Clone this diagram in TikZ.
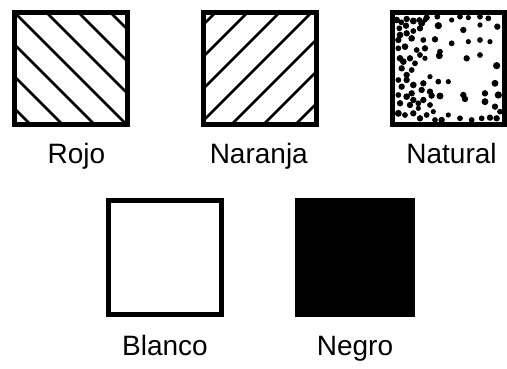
\documentclass[tikz,border=0pt]{standalone}
\usepackage{fontspec}
\setmainfont{Liberation Sans}
\begin{document}
\begin{tikzpicture}[x=1pt,y=1pt,
  frame/.style={draw=black,line width=5pt},
  hatch/.style={draw=black,line width=2.6pt},
  lbl/.style={anchor=base,inner sep=0pt,font=\fontsize{28}{34}\selectfont},
  dot/.style={fill=black}]
\useasboundingbox (0,0) rectangle (507,-369);
% ---- Rojo ----
\begin{scope}
\clip (14.5,-12.5) rectangle (127.5,-124.5);
\foreach \s in {-96,-64,-32,0,32,64,96}
  \draw[hatch] ({17+\s-150},{-15+150}) -- ({17+\s+150},{-15-150});
\end{scope}
\node[frame,minimum width=113pt,minimum height=112pt,inner sep=0pt] (rojo) at (71,-68.5) {};
\node[lbl] (lrojo) at (76.5,-164) {Rojo};
% ---- Naranja ----
\begin{scope}
\clip (203.5,-12.5) rectangle (316.5,-124.5);
\foreach \c in {7,39,71,103,135,167,199}
  \draw[hatch] ({206+\c-150},{-15-150}) -- ({206+\c+150},{-15+150});
\end{scope}
\node[frame,minimum width=113pt,minimum height=112pt,inner sep=0pt] (naranja) at (260,-68.5) {};
\node[lbl] (lnaranja) at (258.8,-164) {Naranja};
% ---- Natural ----
\begin{scope}[shift={(380,-5)},x=0.3333pt,y=-0.3333pt]
\clip (37,22) rectangle (378,355);
\foreach \X/\Y/\r in {
 50/45/2.3, 64/52/2, 80/42/2.2, 100/48/2.4, 118/45/2, 140/38/2.2, 172/35/2, 215/45/1.8, 240/35/2, 265/38/1.8, 300/35/2, 325/40/2,
 58/70/2, 78/62/2.2, 125/55/2.4, 135/45/1.8,
 60/90/2.3, 80/85/2.2, 100/78/2, 120/70/2.2, 175/62/2.5, 250/75/2.2, 300/60/1.8, 352/65/2.2,
 55/105/2.2, 95/100/2.3, 130/105/2, 165/103/2.2, 215/115/2, 265/110/1.8, 300/105/2, 330/110/1.8,
 55/130/2, 75/125/2.3, 110/135/2, 135/130/2.2, 180/140/2,
 60/160/2.3, 70/170/2.3, 90/160/2.2, 105/175/2, 120/150/2, 135/160/1.8, 178/152/2.4, 260/160/2.2, 300/150/2, 350/182/2.5,
 65/190/2.2, 95/195/2, 80/210/2.2,
 55/225/2, 80/225/2.2, 100/240/2.3, 130/235/2.2, 150/215/1.8, 175/230/2, 205/230/1.8, 65/245/2.2, 95/265/2.2, 125/255/2.2, 150/260/2.2, 345/235/2.4,
 55/270/2, 80/275/2.3, 100/285/2.2, 130/285/2.2, 155/272/2.2, 180/273/2.4, 250/270/2.2, 255/282/2.2, 315/265/2.2, 355/270/2.5,
 60/295/2.2, 90/300/2.2, 115/295/2, 150/300/2, 315/290/2.4, 345/305/2.2,
 55/325/2.4, 75/330/2, 100/325/2.2, 120/340/2.2, 140/330/2, 165/345/2, 185/345/2.2, 205/330/1.8, 240/340/2, 275/345/2, 305/340/2, 330/338/2.2, 350/340/2.2, 360/320/2, 115/310/1.8, 160/320/1.8}
  \fill[dot] (\X,\Y) circle[radius={\r*1.45pt}];
\end{scope}
\node[frame,minimum width=112pt,minimum height=112pt,inner sep=0pt] (natural) at (448.5,-68.5) {};
\node[lbl] (lnatural) at (451.5,-164) {Natural};
% ---- Blanco ----
\node[frame,minimum width=113pt,minimum height=114pt,inner sep=0pt] (blanco) at (165,-257.5) {};
\node[lbl] (lblanco) at (165,-355) {Blanco};
% ---- Negro ----
\node[fill=black,minimum width=120pt,minimum height=119pt,inner sep=0pt] (negro) at (355,-257.5) {};
\node[lbl] (lnegro) at (355,-355) {Negro};
\end{tikzpicture}
\end{document}
